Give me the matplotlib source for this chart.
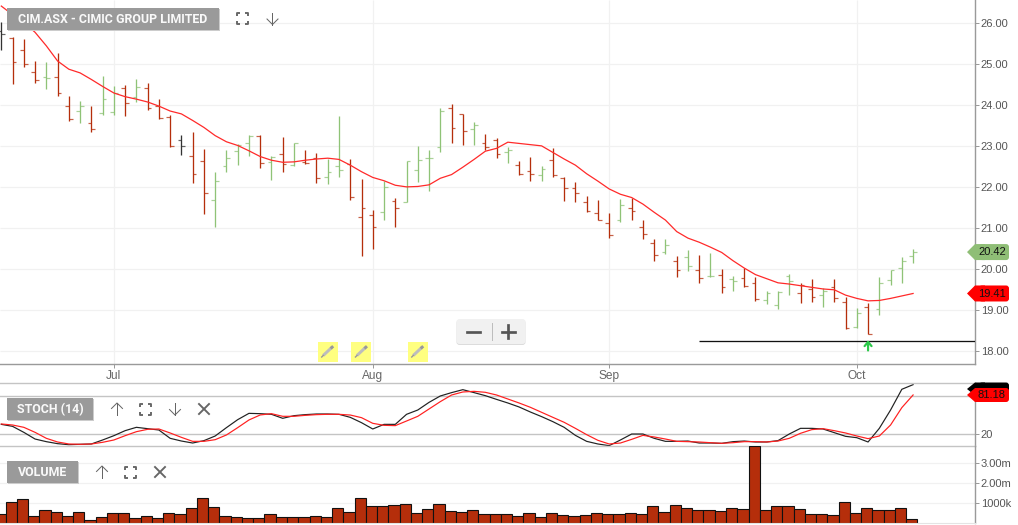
import matplotlib
matplotlib.use("Agg")
import matplotlib.pyplot as plt
from matplotlib.patches import Rectangle, FancyBboxPatch, Polygon

plt.rcParams['font.family'] = ['Liberation Sans', 'DejaVu Sans']

highs = [26.04,25.66,25.62,25.08,25.05,25.27,24.22,24.10,23.98,24.72,24.46,24.50,24.63,24.55,24.15,23.76,23.27,23.34,22.93,22.38,22.91,23.05,23.27,23.28,22.76,23.22,23.08,22.90,22.83,22.70,
         23.74,22.68,22.20,21.45,22.16,21.73,22.63,23.00,22.90,23.93,24.02,23.78,23.59,23.30,23.20,22.99,22.65,22.73,22.52,22.97,22.24,22.12,21.78,21.69,21.37,21.72,21.73,21.20,20.75,20.74,
         20.33,20.47,20.35,20.39,20.00,19.84,20.04,19.80,19.46,19.47,19.89,19.66,19.77,19.54,19.77,19.33,19.06,19.18,19.82,19.99,20.31,20.49]
lows = [25.35,24.52,24.93,24.55,24.39,24.23,23.61,23.58,23.35,23.77,23.76,23.74,24.07,23.88,23.67,22.99,22.78,22.11,21.35,21.04,22.37,22.54,22.77,22.47,22.18,22.37,22.53,22.57,22.11,22.09,
        22.26,21.68,20.33,20.49,21.20,21.02,21.64,22.12,21.92,22.85,23.07,23.03,23.03,22.91,22.71,22.59,22.30,22.16,22.16,22.24,21.67,21.63,21.40,21.19,20.76,21.16,21.21,20.73,20.20,20.37,
        19.82,19.96,19.67,19.82,19.43,19.47,19.58,19.22,19.15,19.03,19.38,19.18,19.20,19.07,19.20,18.55,18.58,18.42,18.89,19.61,19.66,20.15]
opens = [25.80,25.64,25.35,24.80,24.70,24.68,23.98,23.85,23.58,23.80,23.83,24.41,24.21,24.42,23.98,23.72,23.15,22.77,22.65,21.68,22.51,22.88,23.07,23.26,22.62,22.82,22.54,22.62,22.72,22.24,
         22.52,22.57,21.27,21.32,21.40,21.67,21.65,22.42,22.72,22.98,23.93,23.78,23.42,23.07,23.15,22.87,22.54,22.39,22.31,22.67,22.22,21.99,21.63,21.37,21.12,21.19,21.50,21.04,20.63,20.43,
         20.21,20.31,19.98,19.84,19.85,19.76,19.78,19.67,19.24,19.13,19.84,19.43,19.53,19.37,19.58,19.20,18.59,19.07,19.02,19.75,20.02,20.33]
closes = [25.73,25.06,25.00,24.62,24.66,24.30,23.67,23.98,23.43,24.15,24.29,24.05,24.44,23.94,23.68,23.00,23.00,22.33,21.85,22.15,22.72,23.04,23.25,22.60,22.73,22.56,23.07,22.59,22.22,22.37,
          22.43,21.76,21.50,21.04,22.01,21.49,22.63,22.67,22.72,23.86,23.45,23.37,23.53,22.99,22.80,22.90,22.33,22.32,22.44,22.31,21.98,21.85,21.42,21.20,20.84,21.58,21.43,20.85,20.34,20.60,
          19.98,20.07,19.78,19.84,19.56,19.72,19.60,19.28,19.42,19.45,19.72,19.62,19.33,19.46,19.31,18.58,18.93,18.43,19.67,19.98,20.21,20.42]
moving_avg = [26.42,26.21,26.02,25.78,25.45,25.08,24.88,24.79,24.63,24.46,24.30,24.21,24.15,24.08,23.98,23.86,23.79,23.63,23.46,23.26,23.11,23.02,22.89,22.75,22.66,22.61,22.62,22.66,22.69,22.71,
              22.68,22.54,22.38,22.24,22.16,22.05,22.01,22.02,22.06,22.22,22.31,22.49,22.68,22.88,22.95,23.10,23.07,23.04,23.01,22.85,22.69,22.54,22.33,22.15,21.96,21.83,21.75,21.59,21.39,21.20,
              20.92,20.76,20.66,20.54,20.41,20.21,20.03,19.87,19.77,19.67,19.64,19.60,19.56,19.52,19.50,19.37,19.29,19.23,19.24,19.29,19.35,19.41]
stoch_k = [35.5,32.4,23.1,12.7,8.6,5.5,3.9,4.5,5.0,11.2,17.9,25.7,30.9,28.8,26.7,13.8,9.6,6.5,10.2,17.4,30.4,42.8,52.6,52.1,51.1,44.9,49.0,50.6,51.6,51.6,
           51.1,46.4,38.1,28.3,35.5,35.5,51.1,57.8,69.7,79.6,84.8,89.4,84.8,80.1,74.3,68.7,62.5,54.7,47.5,39.7,30.9,18.4,9.1,5.0,2.4,11.2,20.5,20.5,13.8,9.1,
           9.1,9.6,6.5,6.5,6.0,8.6,9.6,8.1,8.1,10.2,20.5,29.3,29.3,28.3,22.6,16.9,14.8,8.1,29.3,57.8,90.0,97.2]
stoch_d = [36.1,34.5,30.9,23.1,13.8,8.1,5.0,4.5,5.0,7.6,11.2,17.9,24.1,27.8,28.3,22.1,15.3,9.1,9.1,11.7,19.0,30.4,42.3,50.1,52.1,48.0,48.0,49.5,50.6,51.1,
           51.1,50.0,45.9,37.1,34.0,33.5,40.7,48.0,59.4,70.8,81.1,85.8,86.8,85.3,81.1,74.9,68.7,62.0,54.2,46.4,38.7,29.3,19.5,10.7,5.0,6.5,12.2,18.4,15.9,12.7,
           9.1,8.6,8.1,7.0,6.0,7.0,8.6,8.6,8.1,9.6,13.8,21.6,27.3,28.8,25.7,22.1,17.4,13.3,17.4,34.5,61.5,81.18]
volume_m = [.43,1.03,1.18,.33,.63,.53,.33,.53,.13,.28,.48,.48,.23,.33,.23,.48,.43,.73,1.23,.78,.33,.28,.23,.23,.43,.28,.28,.28,.33,.28,
            .73,.53,1.23,.83,.83,.88,.93,.48,.68,.93,.58,.53,.63,.43,.43,.43,.33,.48,.28,.48,.38,.33,.38,.48,.43,.43,.48,.43,.83,.53,
            .88,.73,.63,.63,.58,.73,.68,3.85,.63,.83,.83,.68,.43,.43,.38,1.03,.48,.73,.63,.63,.73,.18]
price_ticks = [18, 19, 20, 21, 22, 23, 24, 25, 26]
month_idx = [10, 33, 54, 76]
month_labels = ['Jul', 'Aug', 'Sep', 'Oct']
support_level = 18.24
support_start = 62
signal_idx = 77
note_idx = [29, 32, 37]
volume_ticks = [1, 2, 3]
volume_labels = ['1000k', '2.00m', '3.00m']

W, H = 1018, 525
RED, GREEN, BLK = '#B52E0B', '#8FC377', '#333333'
GRID, AX = '#f1f1f1', '#9a9a9a'
fig = plt.figure(figsize=(W / 100, H / 100), dpi=100, facecolor='white')
pt = 0.72
n = len(closes)
idx = list(range(n))
XMIN, XMAX = -0.1155, 86.5


def pane(y0, y1):
    a = fig.add_axes([0, 1 - y1 / H, 975 / W, (y1 - y0) / H])
    a.set_xlim(XMIN, XMAX)
    a.yaxis.tick_right()
    a.set_facecolor('none')
    for s in a.spines.values():
        s.set_visible(False)
    a.spines['right'].set_visible(True)
    a.spines['right'].set_color(AX)
    a.spines['right'].set_linewidth(1.4 * pt)
    a.tick_params(axis='y', colors=AX, labelcolor='#555555', labelsize=8.0, length=2.6, width=pt, pad=1.6)
    a.set_xticks([])
    return a


# price pane
ax = pane(0, 364)
ax.set_ylim(17.69, 26.568)
ax.set_yticks(price_ticks, [f'{p:.2f}' for p in price_ticks])
ax.hlines(price_ticks, XMIN, XMAX, color=GRID, lw=1.2 * pt, zorder=0)
ax.vlines(month_idx, 17.69, 26.568, color=GRID, lw=1.2 * pt, zorder=0)
ax.spines['bottom'].set_visible(True)
ax.spines['bottom'].set_color(AX)
ax.spines['bottom'].set_linewidth(1.4 * pt)
ax.set_xticks(month_idx, month_labels)
ax.tick_params(axis='x', colors=AX, labelcolor='#666666', labelsize=8.6, length=3, width=pt, pad=1.5)
colors = [BLK] + [GREEN if closes[i] > closes[i - 1] else RED if closes[i] < closes[i - 1] else BLK for i in idx[1:]]
ax.vlines(idx, lows, highs, colors=colors, lw=1.3 * pt, zorder=2)
ax.hlines(opens, [i - 0.33 for i in idx], idx, colors=colors, lw=1.2 * pt, alpha=.75, zorder=2)
ax.hlines(closes, idx, [i + 0.33 for i in idx], colors=colors, lw=1.2 * pt, alpha=.75, zorder=2)
ax.plot(idx, moving_avg, color='#FF2A2A', lw=1.25 * pt, zorder=3)
ax.hlines(support_level + 0.02, support_start + 4, XMAX, color='#8a8a8a', lw=1 * pt, zorder=3)
ax.hlines(support_level, support_start, XMAX, color='#111111', lw=1.3 * pt, zorder=3)
ax.annotate('', xy=(signal_idx, support_level + .03), xytext=(signal_idx, support_level - .22),
            arrowprops=dict(arrowstyle='->,head_width=.25,head_length=.3', color='#2CC84A', lw=2.2 * pt,
                            shrinkA=0, shrinkB=0), zorder=4)

# stochastic pane
sx = pane(383.3, 446.3)
sx.set_ylim(1.4, 99.3)
sx.set_yticks([20], ['20'])
for lev in [20, 80]:
    sx.axhline(lev, color='#c4c4c4', lw=1.4 * pt, zorder=0)
for sp in ['top', 'bottom']:
    sx.spines[sp].set_visible(True)
    sx.spines[sp].set_color('#c4c4c4')
    sx.spines[sp].set_linewidth(1.4 * pt)
sx.plot(idx, stoch_k, color='#222222', lw=1.2 * pt, zorder=2)
sx.plot(idx, stoch_d, color='#FF2020', lw=1.2 * pt, zorder=3)

# volume pane (bars sit slightly left of the price bars in the reference)
vx = pane(446.3, 523)
vx.set_xlim(XMIN + 0.12, XMAX + 0.12)
vx.set_ylim(0, 3.83)
vx.set_yticks(volume_ticks, volume_labels)
vx.hlines(volume_ticks, XMIN, XMAX + 1, color=GRID, lw=1.2 * pt, zorder=0)
vx.bar(idx, volume_m, width=1.0, color=RED, edgecolor='#111111', lw=1.1 * pt, zorder=2)
vx.spines['bottom'].set_visible(True)
vx.spines['bottom'].set_color('#e4e4e4')

# overlay in pixel space for the interface furniture
ov = fig.add_axes([0, 0, 1, 1], zorder=10)
ov.set_xlim(0, W)
ov.set_ylim(H, 0)
ov.axis('off')
ICON = '#666666'


def chip(x0, x1, y0, y1, label):
    ov.add_patch(Rectangle((x0 + 1, y0 + 1), x1 - x0, y1 - y0, fc='#cccccc', ec='none'))
    ov.add_patch(Rectangle((x0, y0), x1 - x0, y1 - y0, fc='#9a9a9a', ec='none'))
    ov.text((x0 + x1) / 2, (y0 + y1) / 2 + .3, label, color='white', ha='center', va='center',
            fontsize=8.9, fontweight='bold', family=['Roboto', 'DejaVu Sans'], alpha=.95)


def expand(x, y):
    r, c = 5.5, 3
    for sx_ in (-1, 1):
        for sy_ in (-1, 1):
            ov.plot([x + sx_ * r, x + sx_ * r, x + sx_ * (r - c)],
                    [y + sy_ * (r - c), y + sy_ * r, y + sy_ * r], color=ICON, lw=1.9 * pt, solid_capstyle='butt')


def arrow(x, y, up):
    s = -1 if up else 1
    ov.plot([x, x], [y - 6, y + 6], color=ICON, lw=1.0 * pt)
    ov.plot([x - 5.5, x, x + 5.5], [y + s * .5, y + s * 6, y + s * .5], color=ICON, lw=1.0 * pt)


def cross(x, y):
    ov.plot([x - 5, x + 5], [y - 5, y + 5], color=ICON, lw=1.9 * pt)
    ov.plot([x - 5, x + 5], [y + 5, y - 5], color=ICON, lw=1.9 * pt)


def ypix(a, v):
    return H - a.transData.transform((0, v))[1]


def tag(yc, h, label, face, txt='#111111'):
    y0, y1 = yc - h / 2, yc + h / 2
    ov.add_patch(FancyBboxPatch((980, y0 + 1), 28, h - 2, boxstyle='round,pad=0,rounding_size=2', fc=face, ec=face, lw=2 * pt))
    ov.add_patch(Polygon([(967, yc), (975, y0), (985, y0), (985, y1), (975, y1)], fc=face, ec='none'))
    if label:
        ov.text(1006, yc + .3, label, color=txt, fontsize=8.0, ha='right', va='center')


chip(7, 219, 8, 30, 'CIM.ASX - CIMIC GROUP LIMITED')
expand(243, 18.5)
arrow(272.5, 18.5, False)
chip(7, 93, 398, 420, 'STOCH (14)')
arrow(117, 409, True)
expand(146, 409)
arrow(175, 409, False)
cross(204, 409)
chip(7, 78, 461, 483, 'VOLUME')
arrow(102, 472, True)
expand(131, 472)
cross(160, 472)

tag(ypix(ax, closes[-1]), 16, f'{closes[-1]:.2f}', '#8FBE76')
tag(ypix(ax, moving_avg[-1]), 16, f'{moving_avg[-1]:.2f}', '#FF0000')
tag(389, 13, '', '#000000')
tag(395, 14, f'{stoch_d[-1]:.2f}', '#FF0000')

# zoom control
ov.add_patch(FancyBboxPatch((456.5, 320), 69, 25, boxstyle='round,pad=0,rounding_size=3', fc='#dcdcdc', ec='none'))
ov.add_patch(FancyBboxPatch((456.5, 319), 69, 25, boxstyle='round,pad=0,rounding_size=3', fc='#f1f1f1', ec='none'))
ov.plot([467, 480], [331.5, 331.5], color='#555555', lw=2.7 * pt)
ov.plot([492.5, 492.5], [323, 340], color='#bdbdbd', lw=1 * pt)
ov.plot([502, 515], [331.5, 331.5], color='#555555', lw=2.7 * pt)
ov.plot([508.5, 508.5], [325, 338], color='#555555', lw=2.7 * pt)

# pencil notes along the price scale
for i in note_idx:
    xc = 1.3 + 11.255 * i
    ov.add_patch(Rectangle((xc - 10, 341.7), 20, 20, fc='#FFFF80', ec='none'))
    ov.plot([xc - 4.5, xc + 4], [355.5, 347.5], color='#bdbdbd', lw=3 * pt, solid_capstyle='butt')
    ov.plot([xc - 6, xc - 4.5], [357, 355.5], color='#999999', lw=1.4 * pt)
    ov.plot([xc + 3, xc + 5.5], [348.5, 346.2], color='#999999', lw=3 * pt, solid_capstyle='butt')

fig.savefig('out.png', dpi=100, facecolor='white')
